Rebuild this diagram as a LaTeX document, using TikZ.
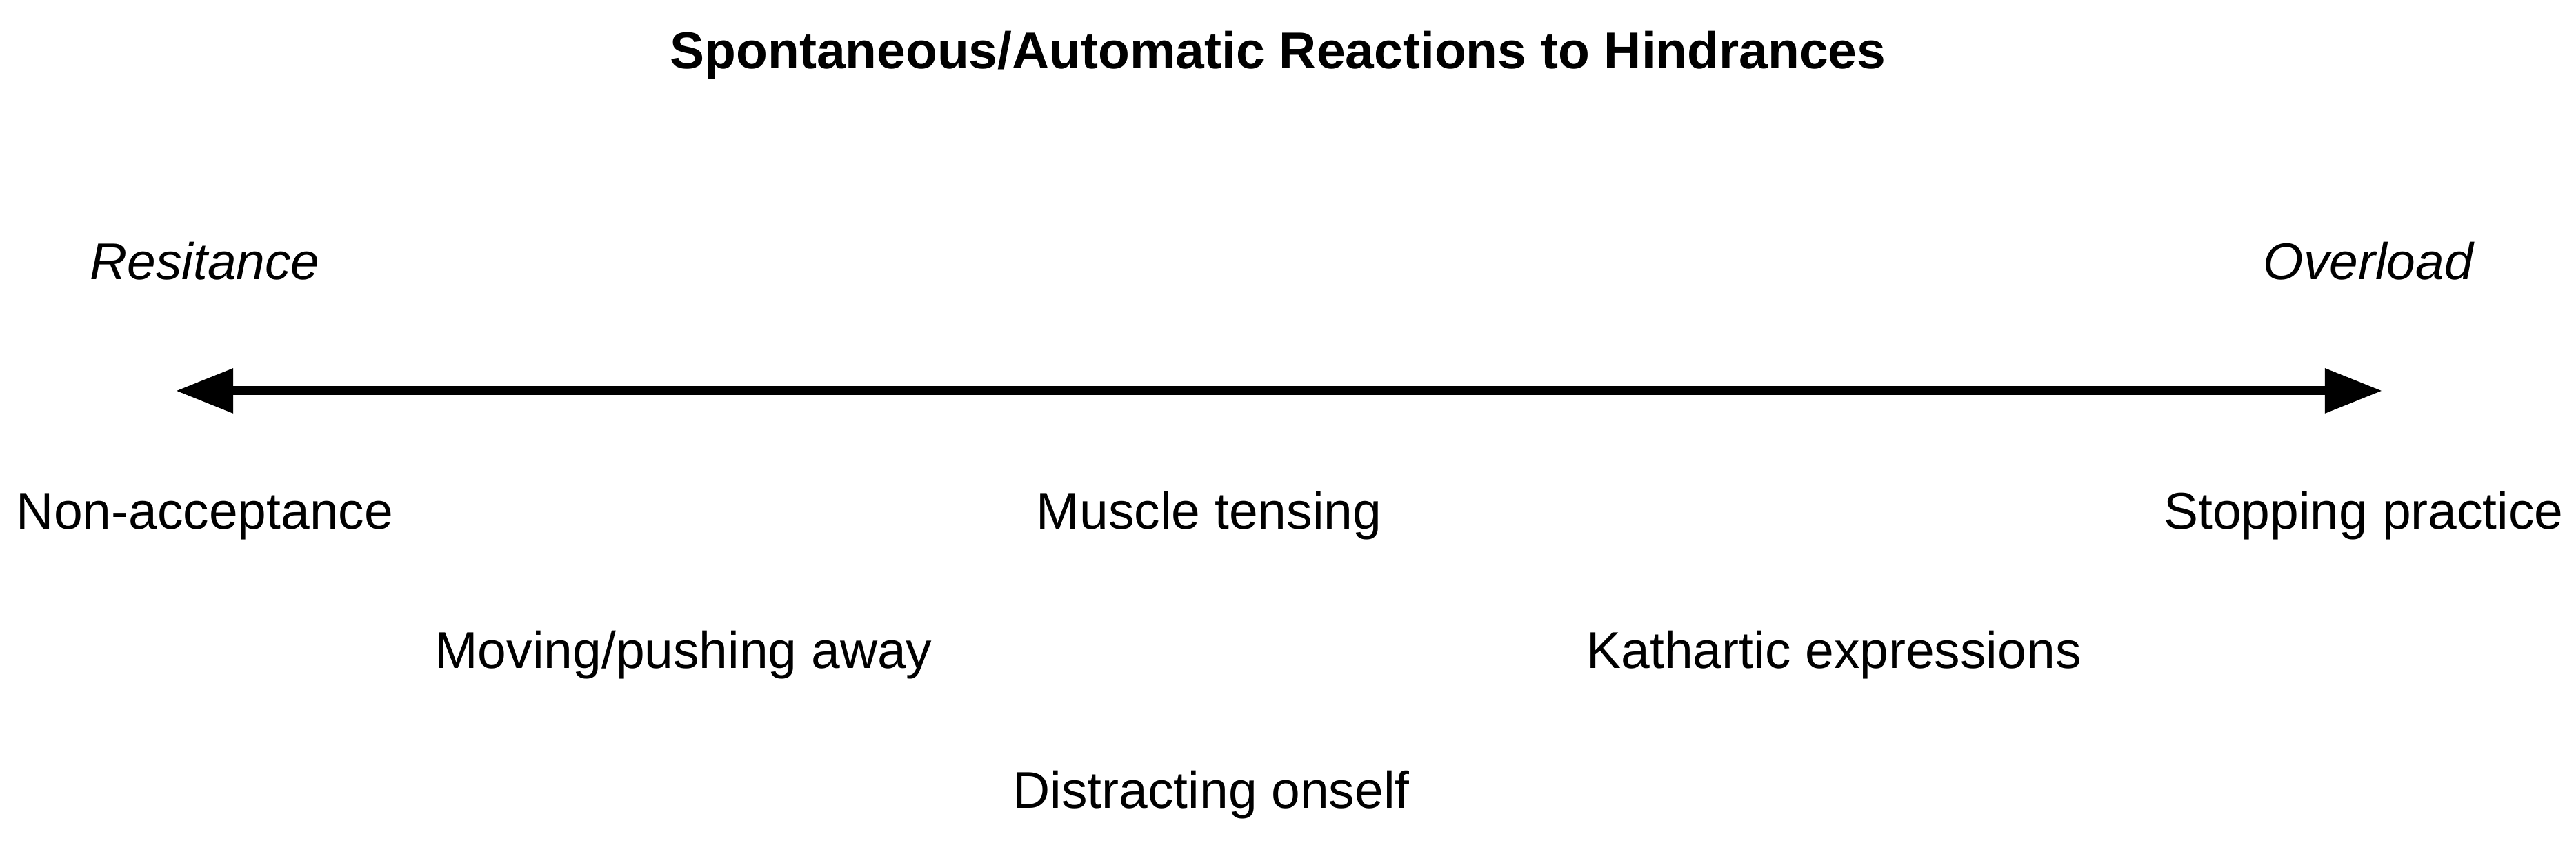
\documentclass[tikz,border=0pt]{standalone}
\usepackage{fontspec}
\setmainfont{Liberation Sans}
\usetikzlibrary{arrows.meta}
\tikzset{
    reaction/.style = {anchor=base, inner sep=0pt, font=\fontsize{12pt}{14pt}\selectfont},
    pole/.style = {reaction, font=\fontsize{12pt}{14pt}\selectfont\itshape},
    heading/.style = {reaction, font=\fontsize{12pt}{14pt}\selectfont\bfseries}
}

\begin{document}
\begin{tikzpicture}
    % fix the page size
    \useasboundingbox (0cm,0cm) rectangle (21.003cm,-6.872cm);

    \node[heading] (title) at (10.42,-0.562) {Spontaneous/Automatic Reactions to Hindrances};

    % the two ends of the scale
    \node[pole] (resistance) at (1.67,-2.278) {Resitance};
    \node[pole] (overload) at (19.31,-2.278) {Overload};

    \coordinate (L) at (1.434,-3.188);
    \coordinate (R) at (19.423,-3.188);
    \draw [{Triangle[length=13.3pt,width=9.9pt]}-{Triangle[length=13.3pt,width=9.9pt]}, line width=2.08pt] (L) -- (R);

    % reactions, first row
    \node[reaction] (nonaccept) at (1.67,-4.313) {Non-acceptance};
    \node[reaction] (tensing) at (9.858,-4.313) {Muscle tensing};
    \node[reaction] (stopping) at (19.271,-4.313) {Stopping practice};

    % second row
    \node[reaction] (pushing) at (5.573,-5.449) {Moving/pushing away};
    \node[reaction] (kathartic) at (14.953,-5.449) {Kathartic expressions};

    % third row
    \node[reaction] (distract) at (9.875,-6.591) {Distracting onself};
\end{tikzpicture}
\end{document}
